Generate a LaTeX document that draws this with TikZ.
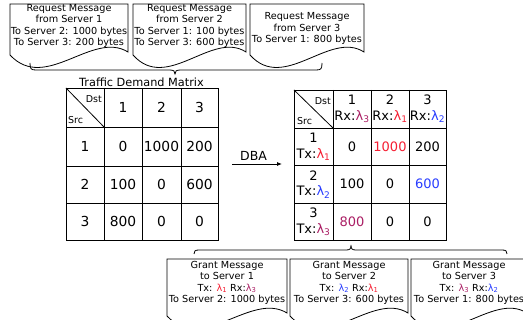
\documentclass[tikz,border=0pt]{standalone}
\usepackage{fontspec}
\setmainfont{DejaVu Sans}
\usetikzlibrary{arrows.meta}
\definecolor{lamred}{RGB}{245,30,50}
\definecolor{lamblue}{RGB}{40,60,255}
\definecolor{lampurple}{RGB}{170,30,100}
\newcommand{\lamone}{\textcolor{lamred}{λ\textsubscript{1}}}
\newcommand{\lamtwo}{\textcolor{lamblue}{λ\textsubscript{2}}}
\newcommand{\lamthree}{\textcolor{lampurple}{λ\textsubscript{3}}}
\newcommand{\docpath}[4]{%
  \draw[docline] ({#1},{#3}) -- ({#2},{#3}) -- ({#2},{#4-3})
    .. controls ({#1+0.7*(#2-#1)},{#4-25}) and ({#1+0.3*(#2-#1)},{#4+38}) .. ({#1},{#4}) -- cycle;}
\begin{document}
\begin{tikzpicture}[x=1pt,y=-1pt,
  docline/.style={line width=0.8pt,draw=black},
  doctext/.style={align=center,inner sep=0pt,font=\fontsize{9.7}{11.5}\selectfont},
  gridline/.style={line width=0.8pt},
  bigcell/.style={inner sep=0pt,font=\fontsize{13.8}{16}\selectfont},
  rcell/.style={inner sep=0pt,align=center,font=\fontsize{13}{15.5}\selectfont},
  smalltext/.style={inner sep=0pt,font=\fontsize{9.5}{10}\selectfont},
  bracel/.style={line width=0.8pt}]
\useasboundingbox (0,0) rectangle (523,320);

% ---------- request messages ----------
\docpath{10}{128}{4}{55}
\docpath{133}{246}{4}{55}
\docpath{250}{364}{4}{55}
\node[doctext] (req1) at (69,26) {Request Message\\from Server 1\\To Server 2: 1000 bytes\\To Server 3: 200 bytes};
\node[doctext] (req2) at (189.5,26) {Request Message\\from Server 2\\To Server 1: 100 bytes\\To Server 3: 600 bytes};
\node[doctext] (req3) at (307,28.5) {Request Message\\from Server 3\\To Server 1: 800 bytes};

% ---------- top brace ----------
\coordinate (tbL) at (30,63);
\coordinate (tbR) at (322,63);
\coordinate (tbT) at (175,74);
\draw[bracel] (tbL) .. controls (30,69) and (31,70) .. (36,70) -- (169,70)
  .. controls (174,70) and (175,71) .. (tbT)
  .. controls (175,71) and (176,70) .. (181,70) -- (316,70)
  .. controls (321,70) and (322,69) .. (tbR);

\node[inner sep=0pt,font=\fontsize{11.3}{13}\selectfont] (tdm) at (141.5,82) {Traffic Demand Matrix};

% ---------- left table ----------
\draw[gridline] (66,88) rectangle (218,240);
\foreach \x in {104,142,181} \draw[gridline] (\x,88) -- (\x,240);
\foreach \y in {127,166,203} \draw[gridline] (66,\y) -- (218,\y);
\draw[gridline] (66,88) -- (104,127);
\node[smalltext,anchor=east] (ldst) at (102,99) {Dst};
\node[smalltext,anchor=west] (lsrc) at (68,120) {Src};
\node[bigcell] (lc1) at (123,107.5) {1};
\node[bigcell] (lc2) at (161.5,107.5) {2};
\node[bigcell] (lc3) at (199.5,107.5) {3};
\node[bigcell] (lr1) at (85,146.5) {1};
\node[bigcell] (lr2) at (85,184.5) {2};
\node[bigcell] (lr3) at (85,221.5) {3};
\node[bigcell] (l11) at (123,146.5) {0};
\node[bigcell] (l12) at (161.5,146.5) {1000};
\node[bigcell] (l13) at (199.5,146.5) {200};
\node[bigcell] (l21) at (123,184.5) {100};
\node[bigcell] (l22) at (161.5,184.5) {0};
\node[bigcell] (l23) at (199.5,184.5) {600};
\node[bigcell] (l31) at (123,221.5) {800};
\node[bigcell] (l32) at (161.5,221.5) {0};
\node[bigcell] (l33) at (199.5,221.5) {0};

% ---------- DBA arrow ----------
\coordinate (dbaS) at (232,164);
\coordinate (dbaE) at (282,164);
\draw[line width=0.8pt,-{Latex[length=5pt,width=4pt]}] (dbaS) -- (dbaE);
\node[inner sep=0pt,font=\fontsize{12.5}{14}\selectfont] (dba) at (253.5,156) {DBA};

% ---------- right table ----------
\draw[gridline] (294,90) rectangle (446,240);
\foreach \x in {333,371,409} \draw[gridline] (\x,90) -- (\x,240);
\foreach \y in {128,165,203} \draw[gridline] (294,\y) -- (446,\y);
\draw[gridline] (294,90) -- (333,128);
\node[smalltext,anchor=east] (rdst) at (331,101) {Dst};
\node[smalltext,anchor=west] (rsrc) at (297,121) {Src};
\node[rcell] (rc1) at (352,109) {1\\Rx:\lamthree};
\node[rcell] (rc2) at (390,109) {2\\Rx:\lamone};
\node[rcell] (rc3) at (427.5,109) {3\\Rx:\lamtwo};
\node[rcell] (rr1) at (313.5,147) {1\\Tx:\lamone};
\node[rcell] (rr2) at (313.5,184.5) {2\\Tx:\lamtwo};
\node[rcell] (rr3) at (313.5,222) {3\\Tx:\lamthree};
\node[rcell] (r11) at (352,146.5) {0};
\node[rcell,text=lamred] (r12) at (390,146.5) {1000};
\node[rcell] (r13) at (427.5,146.5) {200};
\node[rcell] (r21) at (352,184) {100};
\node[rcell] (r22) at (390,184) {0};
\node[rcell,text=lamblue] (r23) at (427.5,184) {600};
\node[rcell,text=lampurple] (r31) at (352,221.5) {800};
\node[rcell] (r32) at (390,221.5) {0};
\node[rcell] (r33) at (427.5,221.5) {0};

% ---------- bottom brace ----------
\coordinate (bbL) at (194,254);
\coordinate (bbR) at (507,254);
\coordinate (bbT) at (351,245);
\draw[bracel] (bbL) .. controls (194,251) and (195,250) .. (199,250) -- (346,250)
  .. controls (350,250) and (351,249) .. (bbT)
  .. controls (351,249) and (352,250) .. (356,250) -- (502,250)
  .. controls (506,250) and (507,251) .. (bbR);

% ---------- grant messages ----------
\docpath{167}{287}{259}{316}
\docpath{290}{408}{259}{316}
\docpath{411}{527}{259}{316}
\node[doctext] (gr1) at (227,283) {Grant Message\\to Server 1\\Tx: \lamone{} Rx:\lamthree\\To Server 2: 1000 bytes};
\node[doctext] (gr2) at (349,283) {Grant Message\\to Server 2\\Tx: \lamtwo{} Rx:\lamone\\To Server 3: 600 bytes};
\node[doctext] (gr3) at (469,283) {Grant Message\\to Server 3\\Tx: \lamthree{} Rx:\lamtwo\\To Server 1: 800 bytes};
\end{tikzpicture}
\end{document}
